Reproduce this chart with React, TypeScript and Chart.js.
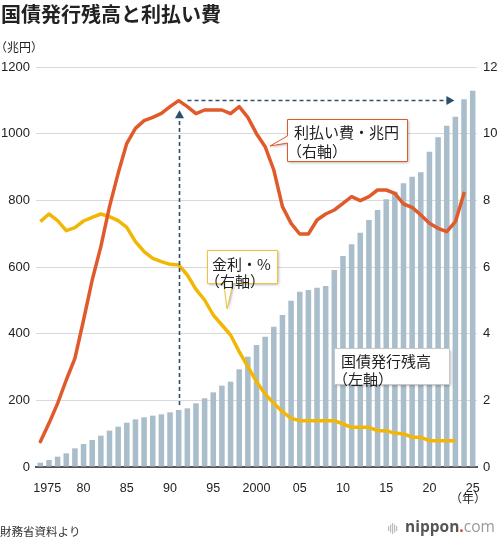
import { useEffect, useRef } from "react";
import { Chart, registerables } from "chart.js";

Chart.register(...registerables);

const years = [
  "1975", "1976", "1977", "1978", "1979", "1980", "1981", "1982", "1983", "1984",
  "1985", "1986", "1987", "1988", "1989", "1990", "1991", "1992", "1993", "1994",
  "1995", "1996", "1997", "1998", "1999", "2000", "2001", "2002", "2003", "2004",
  "2005", "2006", "2007", "2008", "2009", "2010", "2011", "2012", "2013", "2014",
  "2015", "2016", "2017", "2018", "2019", "2020", "2021", "2022", "2023", "2024",
  "2025",
];

// 国債発行残高（兆円, 左軸）
const debtOutstanding = [
  13, 21, 31, 41, 56, 69, 81, 94, 109, 121,
  133, 143, 149, 154, 158, 164, 171, 176, 191, 206,
  224, 244, 256, 293, 331, 366, 391, 421, 456, 499,
  526, 531, 538, 543, 591, 633, 668, 703, 741, 771,
  803, 826, 851, 871, 884, 946, 989, 1024, 1051, 1103,
  1129,
];

// 利払い費（兆円, 右軸）
const interestPayments = [
  0.76, 1.31, 1.91, 2.61, 3.26, 4.41, 5.61, 6.61, 7.81, 8.81,
  9.71, 10.16, 10.39, 10.49, 10.61, 10.81, 10.99, 10.81, 10.6, 10.71,
  10.71, 10.71, 10.6, 10.81, 10.49, 10.0, 9.61, 8.91, 7.81, 7.31,
  6.99, 6.99, 7.41, 7.59, 7.71, 7.91, 8.11, 7.99, 8.11, 8.31,
  8.31, 8.21, 7.89, 7.79, 7.56, 7.31, 7.16, 7.06, 7.36, 8.21,
  null,
];

// 金利（%, 右軸）
const interestRate = [
  7.36, 7.59, 7.39, 7.09, 7.18, 7.38, 7.49, 7.59, 7.51, 7.39,
  7.19, 6.76, 6.46, 6.26, 6.16, 6.08, 6.06, 5.76, 5.33, 5.01,
  4.56, 4.26, 3.96, 3.46, 3.01, 2.56, 2.19, 1.91, 1.66, 1.46,
  1.39, 1.39, 1.39, 1.39, 1.39, 1.29, 1.19, 1.19, 1.19, 1.09,
  1.09, 1.01, 1.0, 0.89, 0.89, 0.79, 0.79, 0.79, 0.79, null,
  null,
];

const tickYears = ["1975", "1980", "1985", "1990", "1995", "2000", "2005", "2010", "2015", "2020", "2025"];
const tickTexts = ["1975", "80", "85", "90", "95", "2000", "05", "10", "15", "20", "25"];

const FONT_JP = '"Noto Sans CJK JP", "Noto Sans", sans-serif';
const FONT_NUM = '"Liberation Sans", Arial, "Noto Sans CJK JP", sans-serif';

const BAR_COLOR = "#a9bdca";
const ORANGE = "#e05a2b";
const YELLOW = "#f2b705";
const NAVY = "#2d4f6c";

function drawBox(
  ctx: CanvasRenderingContext2D,
  pts: [number, number][],
  border: string
) {
  ctx.save();
  ctx.beginPath();
  pts.forEach(([px, py], i) => (i === 0 ? ctx.moveTo(px, py) : ctx.lineTo(px, py)));
  ctx.closePath();
  ctx.shadowColor = "rgba(0,0,0,0.35)";
  ctx.shadowBlur = 3;
  ctx.shadowOffsetX = 1;
  ctx.shadowOffsetY = 1;
  ctx.fillStyle = "#ffffff";
  ctx.fill();
  ctx.shadowColor = "transparent";
  ctx.lineWidth = 1;
  ctx.strokeStyle = border;
  ctx.stroke();
  ctx.restore();
}

const overlayPlugin = {
  id: "overlay",
  afterDraw(chart: any) {
    const ctx: CanvasRenderingContext2D = chart.ctx;
    const xs = chart.scales.x;
    const yL = chart.scales.y;
    const yR = chart.scales.y1;

    // dashed arrows
    const ax = Math.round(xs.getPixelForValue(years.indexOf("1991"))) + 0.5;
    const yStart = yL.getPixelForValue(186);
    const yTip = yR.getPixelForValue(10.7);
    ctx.save();
    ctx.strokeStyle = NAVY;
    ctx.fillStyle = NAVY;
    ctx.lineWidth = 1.6;
    ctx.setLineDash([4, 3]);
    ctx.beginPath();
    ctx.moveTo(ax, yStart);
    ctx.lineTo(ax, yTip + 7);
    ctx.stroke();
    const hy = Math.round(yR.getPixelForValue(11.0)) + 0.5;
    const hx0 = ax + 8;
    const hx1 = xs.getPixelForValue(years.indexOf("2023")) - 1;
    ctx.beginPath();
    ctx.moveTo(hx0, hy);
    ctx.lineTo(hx1 - 7, hy);
    ctx.stroke();
    ctx.setLineDash([]);
    ctx.beginPath();
    ctx.moveTo(ax, yTip);
    ctx.lineTo(ax - 4.5, yTip + 8);
    ctx.lineTo(ax + 4.5, yTip + 8);
    ctx.closePath();
    ctx.fill();
    ctx.beginPath();
    ctx.moveTo(hx1, hy);
    ctx.lineTo(hx1 - 8, hy - 4.5);
    ctx.lineTo(hx1 - 8, hy + 4.5);
    ctx.closePath();
    ctx.fill();
    ctx.restore();

    // annotation boxes
    drawBox(
      ctx,
      [
        [287.5, 119.5], [407.5, 119.5], [407.5, 161.5], [287.5, 161.5],
        [287.5, 143], [270, 146], [287.5, 136],
      ],
      ORANGE
    );
    drawBox(
      ctx,
      [
        [207.5, 250.5], [277.5, 250.5], [277.5, 283.5], [233, 283.5],
        [227, 309], [224, 283.5], [207.5, 283.5],
      ],
      "#f0c43a"
    );
    drawBox(
      ctx,
      [
        [334.5, 348.5], [449.5, 348.5], [449.5, 384.5], [334.5, 384.5],
      ],
      "#c8c8c8"
    );

    ctx.save();
    ctx.fillStyle = "#222";
    ctx.textBaseline = "middle";
    ctx.textAlign = "left";
    ctx.font = `15px ${FONT_JP}`;
    ctx.fillText("利払い費・兆円", 294, 132);
    ctx.fillText("（右軸）", 287, 151);
    ctx.fillText("金利・%", 212, 264);
    ctx.fillText("（右軸）", 205, 281);
    ctx.fillText("国債発行残高", 341, 361);
    ctx.fillText("（左軸）", 333, 379);

    // title & side texts
    ctx.font = `bold 20px ${FONT_JP}`;
    ctx.fillStyle = "#222";
    ctx.fillText("国債発行残高と利払い費", 1, 14);
    ctx.font = `12px ${FONT_JP}`;
    ctx.fillText("（兆円）", -5, 47);
    ctx.fillText("（年）", 450, 498);
    ctx.font = `11.5px ${FONT_JP}`;
    ctx.fillStyle = "#333";
    ctx.fillText("財務省資料より", 0, 532);

    // logo
    ctx.fillStyle = "#bbbbbb";
    const bars = [5, 8, 11, 8, 5];
    bars.forEach((h, i) => {
      ctx.fillRect(388 + i * 2, 528.5 - h / 2, 1.2, h);
    });
    let lx = 405;
    ctx.font = `bold 15.5px "Open Sans", "Noto Sans", sans-serif`;
    ctx.fillStyle = "#555";
    ctx.fillText("nippon", lx, 528);
    lx += ctx.measureText("nippon").width;
    ctx.fillStyle = "#e03a2e";
    ctx.fillText(".", lx, 528);
    lx += ctx.measureText(".").width;
    ctx.font = `15.5px "Open Sans", "Noto Sans", sans-serif`;
    ctx.fillStyle = "#999";
    ctx.fillText("com", lx, 528);
    ctx.restore();
  },
};

export default function App() {
  const ref = useRef<HTMLCanvasElement | null>(null);

  useEffect(() => {
    if (!ref.current) return;
    const chart = new Chart(ref.current, {
      type: "bar",
      data: {
        labels: years,
        datasets: [
          {
            type: "line",
            label: "利払い費・兆円",
            data: interestPayments,
            yAxisID: "y1",
            borderColor: ORANGE,
            borderWidth: 3.5,
            pointRadius: 0,
            tension: 0,
            borderJoinStyle: "round",
            borderCapStyle: "round",
            order: 1,
          },
          {
            type: "line",
            label: "金利・%",
            data: interestRate,
            yAxisID: "y1",
            borderColor: YELLOW,
            borderWidth: 3.5,
            pointRadius: 0,
            tension: 0,
            borderJoinStyle: "round",
            borderCapStyle: "butt",
            order: 2,
          },
          {
            type: "bar",
            label: "国債発行残高",
            data: debtOutstanding,
            yAxisID: "y",
            backgroundColor: BAR_COLOR,
            barPercentage: 0.64,
            categoryPercentage: 1,
            order: 3,
          },
        ],
      } as any,
      options: {
        responsive: false,
        animation: false,
        layout: { padding: { top: 67, bottom: 44, left: 0, right: 0 } },
        plugins: {
          legend: { display: false },
          tooltip: { enabled: false },
          title: { display: false },
        },
        scales: {
          x: {
            grid: { display: false },
            border: { display: true, color: "#555", width: 2 },
            ticks: {
              autoSkip: false,
              maxRotation: 0,
              minRotation: 0,
              padding: 6,
              color: "#222",
              font: { family: FONT_NUM, size: 12.5 },
              callback: (_v: any, index: number) => {
                const k = tickYears.indexOf(years[index]);
                if (k < 0) return "";
                return k === 0 ? "    " + tickTexts[k] : tickTexts[k];
              },
            },
            afterFit: (s: any) => {
              s.height = 30;
            },
          },
          y: {
            position: "left",
            min: 0,
            max: 1200,
            grid: { color: "#d9d9d9", lineWidth: 1, drawTicks: false },
            border: { display: false },
            ticks: {
              stepSize: 200,
              padding: 6,
              color: "#222",
              font: { family: FONT_NUM, size: 13 },
              callback: (v: any) => String(v),
            },
            afterFit: (s: any) => {
              s.width = 36;
            },
          },
          y1: {
            position: "right",
            min: 0,
            max: 12,
            grid: { display: false, drawTicks: false },
            border: { display: false },
            ticks: {
              stepSize: 2,
              padding: 6,
              color: "#222",
              font: { family: FONT_NUM, size: 13 },
              callback: (v: any) => String(v),
            },
            afterFit: (s: any) => {
              s.width = 23;
            },
          },
        },
      },
      plugins: [overlayPlugin],
    });
    return () => chart.destroy();
  }, []);

  return (
    <div style={{ position: "absolute", left: 0, top: 0, width: 500, height: 541, background: "#fff" }}>
      <canvas ref={ref} width={500} height={541} style={{ display: "block" }} />
    </div>
  );
}
